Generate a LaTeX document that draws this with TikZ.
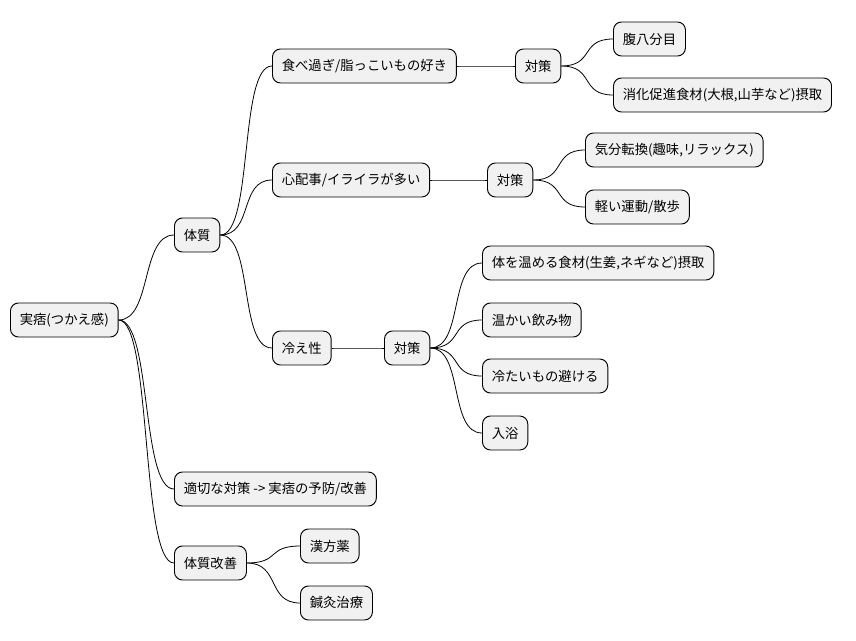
\documentclass[tikz,border=0pt]{standalone}
\usepackage{fontspec}
\setmainfont{Noto Sans CJK JP}
\begin{document}
\begin{tikzpicture}[x=0.75pt,y=-0.75pt,
  box/.style={draw=black,line width=0.7pt,fill={rgb,255:red,241;green,241;blue,241},rounded corners=6pt,anchor=west,minimum height=25.5pt,inner xsep=7pt,font=\fontsize{10pt}{12pt}\selectfont},
  ln/.style={draw=black,line width=0.6pt}]
\useasboundingbox (0,0) rectangle (856,640);
\node[box] (r) at (10,320) {実痞(つかえ感)};
\node[box] (t) at (174,235) {体質};
\node[box] (a) at (272,66) {食べ過ぎ/脂っこいもの好き};
\node[box] (a1) at (515,66) {対策};
\node[box] (a11) at (613,39) {腹八分目};
\node[box] (a12) at (613,95) {消化促進食材(大根,山芋など)摂取};
\node[box] (b) at (272,180) {心配事/イライラが多い};
\node[box] (b1) at (487,180) {対策};
\node[box] (b11) at (585,150) {気分転換(趣味,リラックス)};
\node[box] (b12) at (585,207) {軽い運動/散歩};
\node[box] (c) at (272,348) {冷え性};
\node[box] (c1) at (384,348) {対策};
\node[box] (c11) at (482,263) {体を温める食材(生姜,ネギなど)摂取};
\node[box] (c12) at (482,320) {温かい飲み物};
\node[box] (c13) at (482,376) {冷たいもの避ける};
\node[box] (c14) at (482,433) {入浴};
\node[box] (d) at (174,489) {適切な対策 -> 実痞の予防/改善};
\node[box] (e) at (174,563) {体質改善};
\node[box] (e1) at (300,546) {漢方薬};
\node[box] (e2) at (300,603) {鍼灸治療};
\foreach \p/\c in {r/t,r/d,r/e,t/a,t/b,t/c,a/a1,a1/a11,a1/a12,b/b1,b1/b11,b1/b12,c/c1,c1/c11,c1/c12,c1/c13,c1/c14,e/e1,e/e2}
  \draw[ln] (\p.east) .. controls ([xshift=25]\p.east) and ([xshift=-25]\c.west) .. (\c.west);
\end{tikzpicture}
\end{document}
